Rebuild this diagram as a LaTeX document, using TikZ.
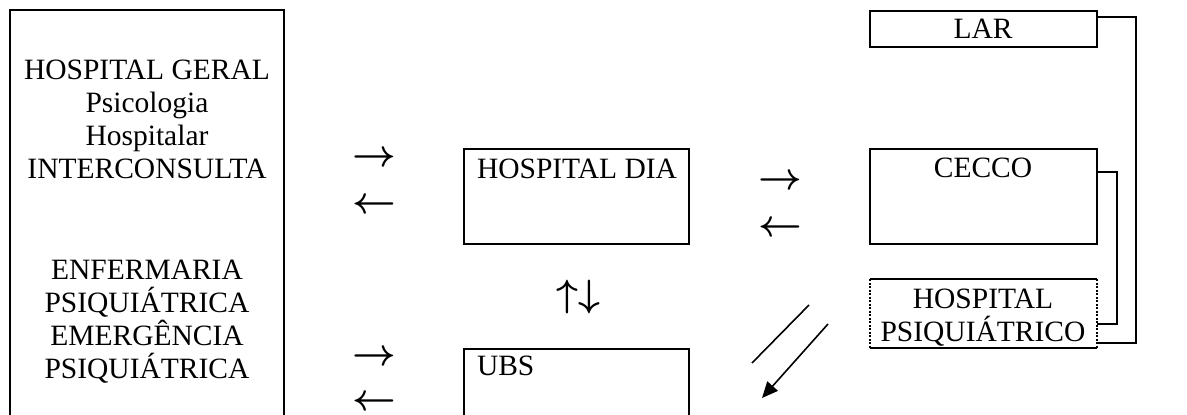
\documentclass[tikz,border=0pt]{standalone}
\usepackage{graphicx}
\usepackage{fontspec}
\setmainfont{Liberation Serif}
\usetikzlibrary{arrows.meta}
\begin{document}
\begin{tikzpicture}[x=1pt,y=-1pt,
  box/.style={draw,line width=2pt,inner sep=0pt,outer sep=0pt},
  txt/.style={font=\fontsize{29.5}{33}\selectfont,inner sep=0pt,outer sep=0pt},
  arr/.style={font=\normalsize\boldmath,inner sep=0pt,outer sep=0pt,anchor=base},
  link/.style={line width=1.5pt},
  diag/.style={line width=1.6pt}]
\useasboundingbox (0,0) rectangle (1187,415);
\clip (0,0) rectangle (1187,415);
% left box
\node[box,minimum width=274pt,minimum height=440pt,anchor=north west] (hg) at (10,10) {};
\node[txt,align=center,anchor=base] (hgtop) at (147,178) {HOSPITAL GERAL\\Psicologia\\Hospitalar\\INTERCONSULTA};
\node[txt,align=center,anchor=base] (hgbot) at (147,378) {ENFERMARIA\\PSIQUIÁTRICA\\EMERGÊNCIA\\PSIQUIÁTRICA};
% left arrows
\node[arr] (la1) at (374.5,166.5) {\scalebox{3.8}{$\rightarrow$}};
\node[arr] (la2) at (374.5,213) {\scalebox{3.8}{$\leftarrow$}};
\node[arr] (la3) at (374.5,365) {\scalebox{3.8}{$\rightarrow$}};
\node[arr] (la4) at (374.5,410) {\scalebox{3.8}{$\leftarrow$}};
% hospital dia
\node[box,minimum width=225pt,minimum height=95pt,anchor=north west] (hd) at (464,149) {};
\node[txt,anchor=base west] (hdt) at (477,178) {HOSPITAL DIA};
% up/down
\node[arr] (ud) at (578,306.5) {\scalebox{3.8}{$\uparrow\downarrow$}};
% UBS
\node[box,minimum width=225pt,minimum height=100pt,anchor=north west] (ubs) at (464,349) {};
\node[txt,anchor=base west] (ubst) at (477,375) {UBS};
% right arrows
\node[arr] (ra1) at (780,189) {\scalebox{3.8}{$\rightarrow$}};
\node[arr] (ra2) at (780,236) {\scalebox{3.8}{$\leftarrow$}};
% LAR
\node[box,minimum width=227pt,minimum height=36pt,anchor=north west] (lar) at (870,11) {};
\node[txt,anchor=base] (lart) at (983,38) {LAR};
% CECCO
\node[box,minimum width=227pt,minimum height=95pt,anchor=north west] (cecco) at (870,149) {};
\node[txt,anchor=base] (ceccot) at (983,177) {CECCO};
% Hospital psiquiatrico
\node[inner sep=0pt,outer sep=0pt,minimum width=227pt,minimum height=69pt,anchor=north west] (hp) at (870,279) {};
\draw[line width=2pt] (hp.north west) -- (hp.north east);
\draw[line width=2pt] (hp.south west) -- (hp.south east);
\draw[line width=1.5pt,dash pattern=on 2pt off 1.5pt] (hp.north west) -- (hp.south west);
\draw[line width=1.5pt,dash pattern=on 2pt off 1.5pt] (hp.north east) -- (hp.south east);
\node[txt,align=center,anchor=base] (hpt) at (983,341) {HOSPITAL\\PSIQUIÁTRICO};
% right connectors
\coordinate (r1) at (1136,0);
\coordinate (r2) at (1117,0);
\coordinate (larc) at ([yshift=12pt]lar.east);
\coordinate (hpa) at ([yshift=-29.5pt]hp.east);
\coordinate (ceccoc) at ([yshift=24.5pt]cecco.east);
\coordinate (hpb) at ([yshift=-10.5pt]hp.east);
\draw[link] (larc) -- (larc -| r1) -- (hpa -| r1) -- (hpa);
\draw[link] (ceccoc) -- (ceccoc -| r2) -- (hpb -| r2) -- (hpb);
% diagonals
\coordinate (d1s) at (752,363);
\coordinate (d1e) at (809,305);
\coordinate (d2s) at (828,324);
\coordinate (d2e) at (762,398);
\draw[diag] (d1s) -- (d1e);
\draw[diag,-{Triangle[length=16pt,width=14pt]}] (d2s) -- (d2e);
\end{tikzpicture}
\end{document}
